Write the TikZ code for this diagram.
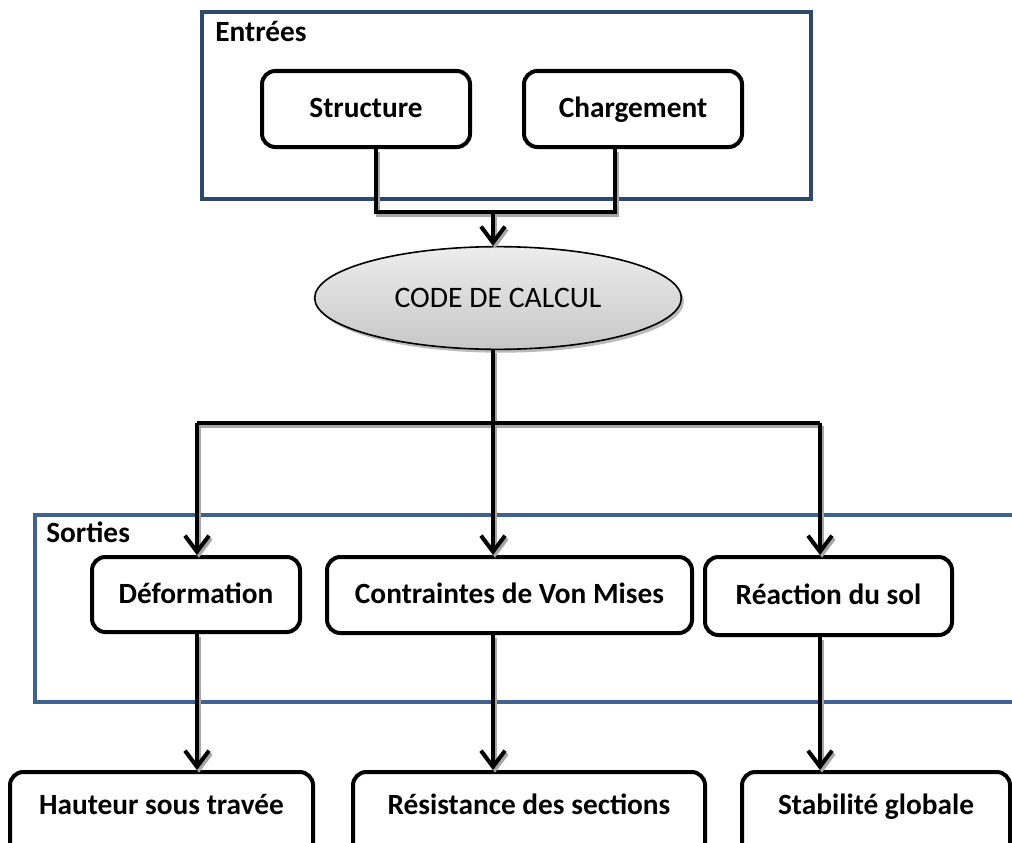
\documentclass[tikz,border=0pt]{standalone}
\usepackage{fontspec}
\setmainfont{Carlito}
\usetikzlibrary{arrows.meta,shapes.geometric,shadows,calc}
\definecolor{navyA}{RGB}{44,72,108}
\definecolor{navyB}{RGB}{62,98,146}
\begin{document}
\begin{tikzpicture}[x=0.75pt,y=-0.75pt,
  box/.style={draw=black,line width=3pt,rounded corners=10pt,fill=white,
    font=\fontsize{22}{26}\selectfont\bfseries,align=center,inner sep=0pt,
    text height=16.5pt,text depth=3.5pt},
  conn/.style={line width=3pt,draw=black,line join=miter,
    preaction={draw=black!35,line width=3pt,transform canvas={xshift=1.5pt,yshift=-2pt}}},
  arr/.style={conn,-{Straight Barb[length=12pt,width=18pt,line width=3pt]}},
  frameA/.style={draw=navyA,line width=3.5pt},
  frameB/.style={draw=navyB,line width=3.5pt},
  lbl/.style={font=\fontsize{22}{26}\selectfont\bfseries,inner sep=0pt},
  txt/.style={font=\fontsize{22}{26}\selectfont\bfseries,inner sep=0pt,
    text height=16.5pt,text depth=3.5pt}]
\useasboundingbox (0,0) rectangle (1012,842);
\clip (0,0) rectangle (1012,842);
\fill[white] (0,0) rectangle (1012,842);

% frames
\draw[frameA] (202,12) rectangle (811,199);
\draw[frameB] (1040,515) -- (35,515) -- (35,702) -- (1040,702);
\node[lbl,anchor=base west] (tE) at (215,42) {Entrées};
\node[lbl,anchor=base west] (tS) at (46,542) {Sorties};

% input boxes
\node[box,minimum width=156pt,minimum height=57pt] (st) at (366,109) {Structure};
\node[box,minimum width=163.5pt,minimum height=57pt] (ch) at (633,109) {Chargement};

% code ellipse
\node[ellipse,draw=black,line width=1.2pt,top color=black!7,bottom color=black!22,
  drop shadow={shadow xshift=2pt,shadow yshift=-2.5pt,fill=black!45,opacity=0.6},
  minimum width=275pt,minimum height=77pt,inner sep=0pt,
  font=\fontsize{22.3}{26}\selectfont] (code) at (498,298) {CODE DE CALCUL};

% output boxes
\node[box,minimum width=156pt,minimum height=56.25pt] (def) at (196,594.5) {Déformation};
\node[box,minimum width=273.75pt,minimum height=57pt] (con) at (509.5,595) {Contraintes de Von Mises};
\node[box,minimum width=185.25pt,minimum height=58.5pt] (rea) at (828.5,596) {Réaction du sol};

% result boxes (bottom edge beyond the page)
\node[box,minimum width=227.25pt,minimum height=90pt,anchor=north] (hau) at (161.5,770) {};
\node[box,minimum width=264pt,minimum height=90pt,anchor=north] (res) at (529,770) {};
\node[box,minimum width=201pt,minimum height=90pt,anchor=north] (sta) at (876,770) {};
\node[txt] (hauT) at (161.5,806) {Hauteur sous travée};
\node[txt] (resT) at (529,806) {Résistance des sections};
\node[txt] (staT) at (876,806) {Stabilité globale};

% connectors
\coordinate (jn) at (493,212);
\coordinate (j1) at (197,423);
\coordinate (j2) at (493,423);
\coordinate (j3) at (820,423);

\draw[conn] ([xshift=7.5pt]st.south) |- (jn) -| ([xshift=-13.5pt]ch.south);
\draw[arr] (jn) -- (jn |- code.north);
\draw[conn] (j2 |- code.south) -- (j2);
\draw[conn] (j1) -- (j3);
\draw[arr] (j1) -- (j1 |- def.north);
\draw[arr] (j2) -- (j2 |- con.north);
\draw[arr] (j3) -- (j3 |- rea.north);
\draw[arr] (j1 |- def.south) -- (j1 |- hau.north);
\draw[arr] (j2 |- con.south) -- (j2 |- res.north);
\draw[arr] (j3 |- rea.south) -- (j3 |- sta.north);
\end{tikzpicture}
\end{document}
